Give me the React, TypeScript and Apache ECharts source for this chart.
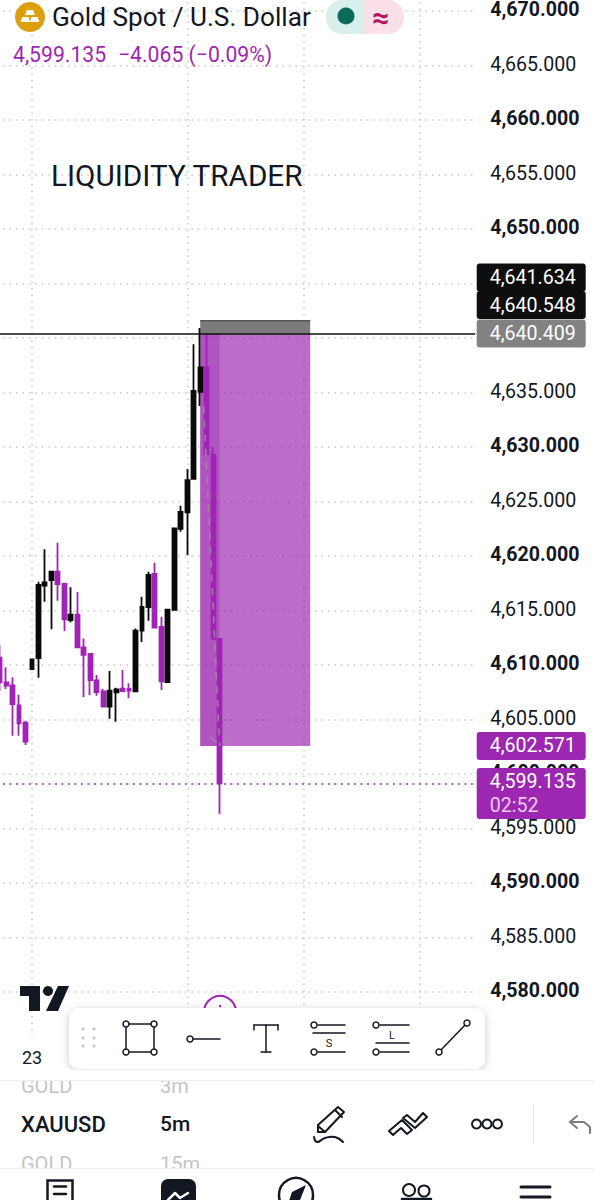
import React, { useEffect, useRef } from "react";
import * as echarts from "echarts";

const FONT = "Roboto, 'DejaVu Sans', sans-serif";
const candleOpen = [4610.67,4608.41,4608.13,4606.30,4604.71,4609.63,4610.64,4617.28,4617.80,4618.56,4617.43,4614.13,4614.62,4611.62,4611.01,4608.59,4607.58,4606.18,4607.49,4607.83,4607.80,4607.58,4613.15,4615.32,4618.35,4613.49,4608.44,4615.05,4622.48,4624.01,4627.07,4635.05,4637.34,4629.27,4612.39];
const candleClose = [4608.41,4608.10,4606.42,4604.65,4602.97,4610.52,4617.34,4617.58,4618.56,4617.43,4614.19,4614.62,4611.62,4610.92,4608.62,4607.52,4606.18,4607.64,4607.77,4607.61,4607.64,4613.15,4615.32,4618.26,4613.42,4608.50,4615.08,4622.54,4624.04,4626.97,4635.14,4637.31,4629.36,4612.39,4599.135];
const candleLow = [4607.61,4607.80,4603.52,4603.52,4602.66,4609.63,4608.84,4615.81,4613.27,4615.90,4613.12,4613.91,4611.62,4607.03,4607.22,4607.19,4606.18,4605.08,4604.80,4607.61,4606.94,4607.58,4612.11,4614.07,4613.42,4607.71,4608.44,4615.05,4622.23,4620.09,4627.07,4633.76,4629.36,4612.39,4596.33];
const candleHigh = [4611.83,4609.79,4608.87,4607.28,4604.89,4610.52,4617.64,4620.61,4618.56,4621.22,4617.55,4617.13,4616.70,4612.42,4611.01,4609.08,4607.83,4609.45,4607.92,4609.54,4608.32,4613.36,4616.27,4618.56,4619.39,4614.43,4615.14,4622.54,4624.61,4627.98,4639.42,4640.92,4640.46,4630.0,4612.39];
const categories = Array.from({ length: 74 }, (_, i) => String(i));
const timeLabels: Record<number, string> = { 5: "23" };
const timeGridIndexes = [5, 29, 47, 65];
const hiddenPriceLabels = [4575, 4640, 4645, 4675];
const stopPrice = 4641.634;
const entryTop = 4640.3;
const entryPrice = 4640.409;
const arrowStart = 4640.548;
const targetPrice = 4602.571;
const lastPrice = 4599.135;
const zoneStart = 31, zoneEnd = 48, arrowEnd = 34;
const zones = [
  [zoneStart, zoneEnd, stopPrice, entryTop],
  [zoneStart, zoneEnd, entryTop, targetPrice],
  [zoneStart, arrowEnd, entryTop, targetPrice],
];
const zoneColors = ["#7b7b7b", "rgba(156,39,176,0.68)", "rgba(156,39,176,0.35)"];
const tagPrices = [4641.634, 4640.548, 4640.409, 4602.571, 4599.135];
const tagTexts = ["4,641.634", "4,640.548", "4,640.409", "4,602.571", "4,599.135"];

const Z = 10;
const LABEL_SIZE = 19.6;
const txt = (text: string, x: number, y: number, size: number, fill: string, extra: any = {}) => ({
  type: "text", z: Z, silent: true, x, y,
  style: { text, fontSize: size, fill, fontFamily: FONT, textVerticalAlign: "middle", verticalAlign: "middle", ...extra },
});
const ln = (x1: number, y1: number, x2: number, y2: number, w = 1.5, c = "#131722") => ({
  type: "line", z: Z, silent: true, shape: { x1, y1, x2, y2 }, style: { stroke: c, lineWidth: w, lineCap: "round" },
});
const dot = (cx: number, cy: number, r = 3, fill = "#fff", stroke = "#131722", w = 1.5) => ({
  type: "circle", z: Z, silent: true, shape: { cx, cy, r }, style: { fill, stroke, lineWidth: w },
});
const rect = (x: number, y: number, width: number, height: number, fill: string, r: any = 0, extra: any = {}) => ({
  type: "rect", z: Z, silent: true, shape: { x, y, width, height, r }, style: { fill, ...extra },
});
const poly = (points: number[][], fill: string) => ({
  type: "polygon", z: Z, silent: true, shape: { points }, style: { fill },
});
const outline = (points: number[][], w = 2, c = "#131722") => ({
  type: "polygon", z: Z, silent: true, shape: { points }, style: { stroke: c, lineWidth: w, fill: "none", lineJoin: "round" },
});
const pline = (points: number[][], w = 2, c = "#131722", smooth = 0) => ({
  type: "polyline", z: Z, silent: true, shape: { points, smooth }, style: { stroke: c, lineWidth: w, fill: "none", lineJoin: "round", lineCap: "round" },
});

const header = [
  { type: "circle", z: Z, silent: true, shape: { cx: 30, cy: 17, r: 15 }, style: { fill: "#DD9F0C" } },
  poly([[27, 10], [33, 10], [35, 15], [25, 15]], "#fff"),
  poly([[22.5, 17], [28.5, 17], [30, 22], [20.5, 22]], "#fff"),
  poly([[31.5, 17], [37.5, 17], [39.5, 22], [30, 22]], "#fff"),
  txt("Gold Spot / U.S. Dollar", 52, 17, 26.2, "#131722"),
  rect(326, 0, 38, 34, "#D8EFEC", [16, 0, 0, 16]),
  rect(364, 0, 40, 34, "#FBDFE9", [0, 16, 16, 0]),
  { type: "circle", z: Z, silent: true, shape: { cx: 346, cy: 16, r: 8.5 }, style: { fill: "#0B6B5A" } },
  txt("≈", 381, 17, 30, "#B0175F", { align: "center", textAlign: "center", fontWeight: 700 }),
  txt("4,599.135", 13, 54, 21.2, "#9C27B0"),
  txt("−4.065 (−0.09%)", 118, 54, 21.2, "#9C27B0"),
  txt("LIQUIDITY TRADER", 51, 175, 29.7, "#131722"),
];

const logo = [
  poly([[20, 986], [40, 986], [40, 1011], [29, 1011], [29, 996], [20, 996]], "#131722"),
  { type: "circle", z: Z, silent: true, shape: { cx: 48, cy: 991, r: 5 }, style: { fill: "#131722" } },
  poly([[58, 986], [69, 986], [58, 1011], [46, 1011]], "#131722"),
];

const toolbar = [
  rect(20, 1036, 30, 11, "#fff"),
  { type: "circle", z: Z, silent: true, shape: { cx: 220, cy: 1012, r: 16 }, style: { fill: "#fff", stroke: "#9C27B0", lineWidth: 2 } },
  dot(220, 1006, 1, "#9C27B0", "#9C27B0", 0.5),
  rect(69, 1008, 416, 61, "#fff", 10, { shadowBlur: 8, shadowColor: "rgba(0,0,0,0.22)", shadowOffsetY: 2 }),
  ...[83, 94].flatMap((x) => [1029, 1038, 1046].map((y) => ({ type: "circle", z: Z, silent: true, shape: { cx: x, cy: y, r: 1.6 }, style: { fill: "#c8c8c8" } }))),
  { type: "rect", z: Z, silent: true, shape: { x: 126, y: 1024, width: 28, height: 28 }, style: { fill: "none", stroke: "#131722", lineWidth: 1.5 } },
  dot(126, 1024), dot(154, 1024), dot(126, 1052), dot(154, 1052),
  ln(193, 1039, 220, 1039), dot(190, 1039),
  ln(266, 1025, 266, 1052), ln(254, 1025, 278, 1025), ln(254, 1025, 254, 1030), ln(278, 1025, 278, 1030), ln(261, 1052, 271, 1052),
  ln(318, 1025, 345, 1025), ln(313, 1033, 345, 1033), ln(318, 1052, 345, 1052), dot(314, 1025), dot(314, 1052),
  txt("S", 329, 1043, 11, "#131722", { align: "center", textAlign: "center" }),
  ln(380, 1025, 409, 1025), ln(376, 1043, 409, 1043), ln(380, 1052, 409, 1052), dot(376, 1025), dot(376, 1052),
  txt("L", 392, 1035, 11, "#131722", { align: "center", textAlign: "center" }),
  ln(441, 1050, 465, 1025), dot(439, 1052), dot(467, 1023),
];

const bottom = [
  rect(0, 1069.5, 594, 11, "#fff"),
  txt("GOLD", 21, 1086, 20, "#c4c4c4"),
  txt("3m", 160, 1086, 20, "#c4c4c4"),
  txt("GOLD", 21, 1164, 20, "#c4c4c4"),
  txt("15m", 160, 1164, 20, "#c4c4c4"),
  rect(0, 1070, 594, 10, "#fff"),
  rect(0, 1080, 594, 1, "#ededed"),
  rect(0, 1168, 594, 32, "#fff"),
  rect(0, 1168, 594, 1, "#ededed"),
  txt("XAUUSD", 21, 1124, 22, "#131722", { fontWeight: 500 }),
  txt("5m", 160, 1124, 21, "#131722", { fontWeight: 500 }),
  outline([[318, 1125], [338, 1107], [344, 1112], [325, 1132], [318, 1132]], 2),
  ln(335, 1110, 342, 1117, 2),
  ln(318, 1126, 325, 1132, 2),
  pline([[314, 1137], [317, 1142], [325, 1138], [335, 1137], [343, 1142]], 2, "#131722", 0.5),
  outline([[389, 1131], [402, 1120], [412, 1130], [407, 1134], [401, 1128], [393, 1135]], 2),
  outline([[407, 1115], [415, 1122], [423, 1113], [427, 1117], [415, 1128], [403, 1118]], 2),
  { type: "circle", z: Z, silent: true, shape: { cx: 476.5, cy: 1124, r: 4.5 }, style: { fill: "none", stroke: "#131722", lineWidth: 2 } },
  { type: "circle", z: Z, silent: true, shape: { cx: 487, cy: 1124, r: 4.5 }, style: { fill: "none", stroke: "#131722", lineWidth: 2 } },
  { type: "circle", z: Z, silent: true, shape: { cx: 497.5, cy: 1124, r: 4.5 }, style: { fill: "none", stroke: "#131722", lineWidth: 2 } },
  rect(533, 1104, 1, 40, "#e6e6e6"),
  pline([[577, 1116], [570, 1122], [577, 1128]], 2, "#7d7d7d"),
  pline([[570, 1122], [584, 1122], [590, 1127], [590, 1133]], 2, "#7d7d7d"),
  { type: "rect", z: Z, silent: true, shape: { x: 47.5, y: 1180.5, width: 25, height: 30 }, style: { fill: "none", stroke: "#131722", lineWidth: 2.5 } },
  ln(54, 1186.5, 66, 1186.5, 2.5), ln(54, 1194, 66, 1194, 2.5),
  rect(161, 1179, 35, 34, "#131722", 7),
  pline([[168, 1200], [175, 1193], [180, 1198], [188, 1193]], 2.5, "#fff"),
  { type: "circle", z: Z, silent: true, shape: { cx: 296, cy: 1195, r: 17 }, style: { fill: "none", stroke: "#131722", lineWidth: 2.5 } },
  poly([[306, 1185], [300, 1200], [288, 1204], [292, 1192]], "#131722"),
  { type: "circle", z: Z, silent: true, shape: { cx: 409, cy: 1190, r: 6 }, style: { fill: "none", stroke: "#131722", lineWidth: 2 } },
  { type: "circle", z: Z, silent: true, shape: { cx: 424, cy: 1191, r: 5.5 }, style: { fill: "none", stroke: "#131722", lineWidth: 2 } },
  ln(402, 1199, 431, 1199, 2.5),
  ln(521, 1187, 550, 1187, 3), ln(521, 1197, 550, 1197, 3),
];

export default function App() {
  const ref = useRef<HTMLDivElement>(null);
  useEffect(() => {
    if (!ref.current) return;
    const chart = echarts.init(ref.current, undefined, { renderer: "svg" });
    chart.setOption({
      animation: false,
      backgroundColor: "#fff",
      grid: { left: -3.6, top: -43.5, width: 478.8, height: 1090, containLabel: false, outerBoundsMode: "none" },
      xAxis: {
        type: "category",
        data: categories,
        axisLine: { show: false },
        axisTick: { show: false },
        axisLabel: {
          interval: (i: number) => i in timeLabels,
          formatter: (_: string, i: number) => timeLabels[i] ?? "",
          fontSize: 18, color: "#131722", fontFamily: FONT, margin: 2,
        },
        splitLine: {
          show: true,
          alignWithLabel: true,
          interval: (i: number) => timeGridIndexes.includes(i),
          lineStyle: { color: "#c6c6c6", width: 1.5, type: [1.5, 5] },
        },
      },
      yAxis: {
        type: "value",
        position: "right",
        min: 4575,
        max: 4675,
        interval: 5,
        axisLine: { show: false },
        axisTick: { show: false },
        splitLine: { show: true, showMinLine: false, showMaxLine: false, lineStyle: { color: "#c6c6c6", width: 1.5, type: [1.5, 5] } },
        axisLabel: {
          margin: 15,
          padding: [0, 0, 3, 0],
          fontFamily: FONT,
          fontSize: LABEL_SIZE,
          color: "#131722",
          formatter: (v: number) => {
            if (hiddenPriceLabels.includes(v)) return "";
            const s = v.toLocaleString("en-US", { minimumFractionDigits: 3, maximumFractionDigits: 3 });
            return v % 10 === 0 ? `{b|${s}}` : `{n|${s}}`;
          },
          rich: {
            b: { fontWeight: 700, fontSize: LABEL_SIZE, fontFamily: FONT, color: "#131722" },
            n: { fontWeight: 400, fontSize: LABEL_SIZE, fontFamily: FONT, color: "#131722" },
          },
        },
      },
      series: [
        {
          type: "custom",
          z: 1,
          data: zones,
          encode: { x: [0, 1], y: [2, 3] },
          renderItem: (p: any, api: any) => {
            const a = api.coord([api.value(0), api.value(2)]);
            const b = api.coord([api.value(1), api.value(3)]);
            const children: any[] = [{ type: "rect", shape: { x: a[0], y: a[1], width: b[0] - a[0], height: b[1] - a[1] }, style: { fill: zoneColors[p.dataIndex] } }];
            if (p.dataIndex === 0) children.push({ type: "line", shape: { x1: a[0], y1: a[1] + 0.5, x2: b[0], y2: a[1] + 0.5 }, style: { stroke: "#555", lineWidth: 1.5 } });
            return { type: "group", children };
          },
        },
        {
          type: "candlestick",
          z: 2,
          barWidth: 4.4,
          data: candleOpen.map((o, i) => [o, candleClose[i], candleLow[i], candleHigh[i]]),
          itemStyle: { color: "#0a0a0a", borderColor: "#0a0a0a", color0: "#A024B5", borderColor0: "#A024B5", borderWidth: 1.8 },
          markLine: {
            silent: true,
            symbol: "none",
            label: { show: false },
            data: [
              { yAxis: entryPrice, lineStyle: { color: "#111", width: 1.6, type: "solid" } },
              { yAxis: lastPrice, lineStyle: { color: "#9C27B0", width: 1.5, type: [2, 4.5] } },
            ],
          },
        },
        {
          type: "custom",
          z: 3,
          data: [[zoneStart, arrowStart, arrowEnd, targetPrice]],
          encode: { x: [0, 2], y: [1, 3] },
          renderItem: (_: any, api: any) => {
            const s = api.coord([api.value(0), api.value(1)]);
            const t = api.coord([api.value(2), api.value(3)]);
            const st = { stroke: "rgba(150,150,150,0.85)", lineWidth: 1.5, fill: "none" };
            const from = 0.18;
            return {
              type: "group",
              children: [
                { type: "line", shape: { x1: s[0] + (t[0] - s[0]) * from, y1: s[1] + (t[1] - s[1]) * from, x2: t[0], y2: t[1] }, style: { ...st, lineDash: [7, 7] } },
                { type: "line", shape: { x1: t[0] - 9, y1: t[1] - 9, x2: t[0] - 3, y2: t[1] - 3 }, style: st },
                { type: "line", shape: { x1: t[0] + 8, y1: t[1] - 9, x2: t[0] + 3, y2: t[1] - 3 }, style: st },
              ],
            };
          },
        },
        {
          type: "custom",
          z: 5,
          data: tagPrices.map((v, i) => [categories.length - 1, v, i]),
          encode: { x: 0, y: 1 },
          renderItem: (p: any, api: any) => {
            const i = p.dataIndex;
            const y0 = api.coord([api.value(0), api.value(1)])[1];
            const x = p.coordSys.x + p.coordSys.width + 1.5;
            const offs = [-42.7, -27, 0, 0, -1.5];
            const cy = y0 + offs[i];
            const fills = ["#0e0e0e", "#0e0e0e", "#828282", "#9C27B0", "#9C27B0"];
            const text = (t: string, yy: number, c: string) => ({
              type: "text", style: { text: t, x: x + 13, y: yy, fill: c, fontSize: LABEL_SIZE, fontFamily: FONT, verticalAlign: "middle", align: "left" },
            });
            const top = cy - 14;
            const h = i === 4 ? 51 : 28;
            const children: any[] = [
              { type: "rect", shape: { x, y: top, width: 109, height: h, r: 3 }, style: { fill: fills[i] } },
              text(tagTexts[i], cy, "#fff"),
            ];
            if (i === 4) children.push(text("02:52", cy + 24, "#ecc9f2"));
            return { type: "group", children };
          },
        },
      ],
      graphic: { elements: [...toolbar, ...logo, ...header, ...bottom] },
    });
    return () => chart.dispose();
  }, []);
  return <div ref={ref} style={{ position: "absolute", left: 0, top: 0, width: 594, height: 1200 }} />;
}
